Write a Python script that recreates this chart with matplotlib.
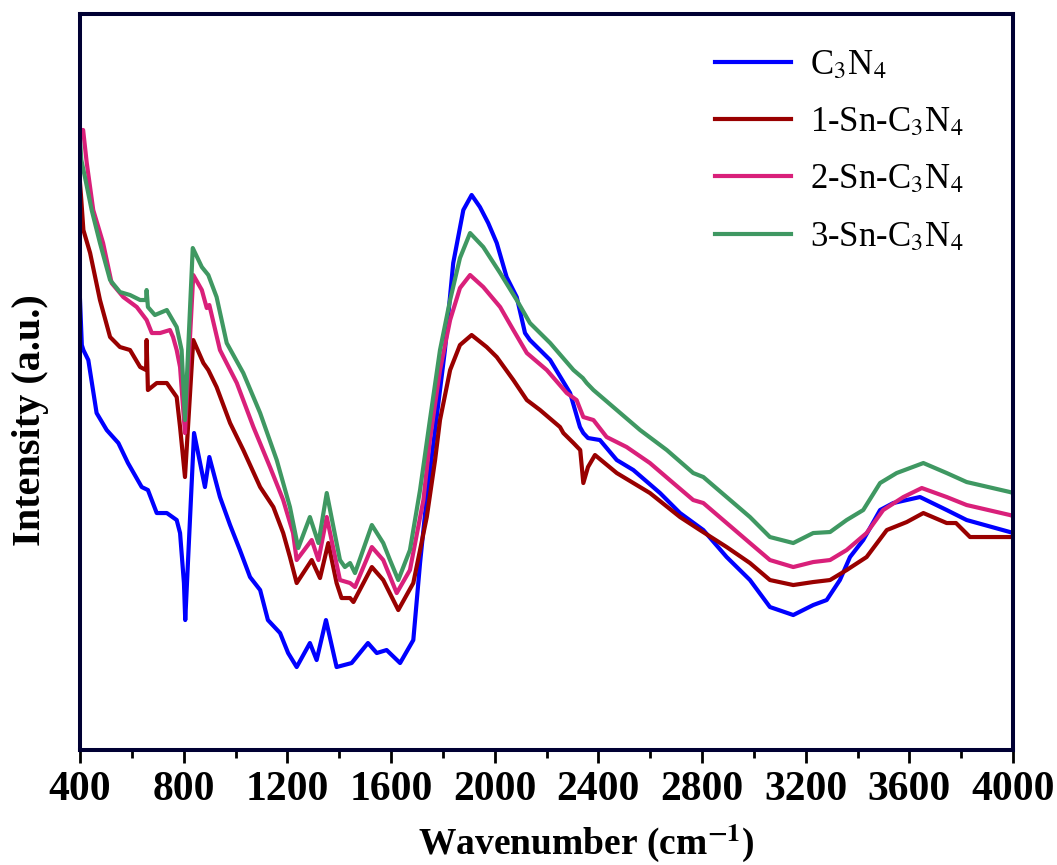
import numpy as np
import matplotlib.pyplot as plt

plt.rcParams['font.family'] = ['Liberation Serif', 'DejaVu Serif']
plt.rcParams['mathtext.fontset'] = 'stix'

# FTIR spectra: wavenumber (cm-1) and intensity (a.u.)
wn_c3n4 = [400, 407, 413, 432, 464, 503, 548, 585, 638, 662, 696, 735, 773, 786, 801, 806,
           840, 882, 899, 940, 979, 1017, 1056, 1095, 1125, 1172, 1203, 1236, 1287, 1313,
           1349, 1390, 1448, 1511, 1545, 1583, 1635, 1686, 1712, 1738, 1770, 1808, 1840,
           1879, 1911, 1943, 1975, 2008, 2046, 2085, 2117, 2136, 2214, 2291, 2329, 2342,
           2360, 2406, 2471, 2535, 2638, 2715, 2805, 2895, 2985, 3062, 3152, 3229, 3281,
           3332, 3371, 3422, 3487, 3538, 3641, 3744, 3821, 3988, 4000]
int_c3n4 = [450, 405, 400, 390, 337, 320, 307, 287, 263, 260, 237, 237, 230, 217, 167, 130,
            317, 263, 293, 253, 225, 200, 173, 160, 130, 117, 97, 83, 107, 90,
            130, 83, 87, 107, 97, 100, 87, 110, 187, 253, 320, 400, 487,
            540, 555, 543, 527, 507, 473, 453, 417, 410, 390, 357, 323, 317,
            312, 310, 290, 280, 257, 237, 220, 193, 170, 143, 135, 145, 150,
            170, 193, 210, 240, 247, 253, 240, 230, 218, 217]

wn_sn1 = [400, 405, 413, 439, 477, 516, 554, 593, 632, 655, 657, 662, 696, 735, 773, 786,
          805, 837, 876, 895, 927, 979, 1030, 1095, 1146, 1184, 1210, 1236, 1294, 1326,
          1358, 1390, 1409, 1442, 1455, 1526, 1570, 1628, 1686, 1738, 1770, 1789, 1828,
          1866, 1911, 1969, 2008, 2072, 2124, 2175, 2252, 2265, 2304, 2330, 2342, 2360,
          2387, 2471, 2599, 2715, 2792, 2895, 2985, 3062, 3152, 3229, 3294, 3358, 3435,
          3513, 3590, 3654, 3744, 3780, 3834, 3988, 4000]
int_sn1 = [567, 550, 520, 497, 450, 413, 403, 400, 383, 380, 410, 360, 367, 367, 353, 323,
           273, 410, 387, 380, 363, 327, 300, 263, 243, 217, 193, 167, 190, 172,
           207, 167, 152, 152, 148, 183, 170, 140, 167, 233, 290, 330, 380,
           405, 415, 403, 393, 370, 350, 340, 323, 317, 307, 300, 267, 283,
           295, 277, 257, 233, 220, 203, 187, 170, 165, 168, 170, 180, 193,
           220, 228, 237, 227, 227, 213, 213, 213]

wn_sn2 = [400, 412, 426, 451, 489, 522, 567, 619, 657, 677, 709, 747, 759, 773, 786, 805,
          837, 870, 889, 899, 940, 1005, 1069, 1133, 1184, 1222, 1236, 1294, 1320, 1352,
          1403, 1442, 1461, 1526, 1570, 1622, 1673, 1725, 1750, 1789, 1828, 1866, 1905,
          1956, 2021, 2072, 2124, 2201, 2278, 2316, 2342, 2381, 2432, 2509, 2599, 2689,
          2766, 2805, 2895, 2985, 3062, 3152, 3229, 3294, 3358, 3435, 3499, 3577, 3648,
          3744, 3821, 3988, 4000]
int_sn2 = [620, 620, 587, 540, 507, 467, 453, 443, 430, 417, 417, 420, 413, 400, 383, 317,
           475, 460, 442, 445, 400, 367, 323, 283, 250, 217, 190, 210, 190, 233,
           170, 167, 163, 203, 190, 157, 180, 250, 310, 380, 430, 462, 475,
           463, 443, 420, 397, 380, 357, 350, 333, 330, 313, 303, 287, 267,
           250, 247, 227, 207, 190, 183, 188, 190, 200, 217, 240, 253, 262,
           253, 245, 235, 234]

wn_sn3 = [400, 405, 419, 445, 477, 516, 554, 593, 632, 655, 657, 662, 689, 735, 773, 792,
          805, 835, 870, 895, 927, 966, 1030, 1095, 1159, 1210, 1242, 1287, 1320, 1352,
          1403, 1422, 1442, 1461, 1526, 1570, 1596, 1628, 1673, 1712, 1750, 1789, 1828,
          1866, 1905, 1956, 2021, 2085, 2136, 2214, 2304, 2340, 2355, 2381, 2471, 2561,
          2664, 2766, 2805, 2895, 2985, 3062, 3152, 3229, 3294, 3358, 3422, 3487, 3551,
          3654, 3744, 3821, 3988, 4000]
int_sn3 = [610, 590, 573, 540, 507, 470, 458, 455, 450, 450, 460, 443, 435, 440, 423, 400,
           330, 502, 483, 475, 453, 407, 377, 337, 290, 243, 202, 233, 207, 257,
           190, 183, 187, 177, 225, 207, 190, 170, 200, 260, 330, 400, 450,
           492, 517, 503, 477, 450, 427, 407, 380, 372, 367, 360, 340, 320,
           300, 277, 273, 253, 233, 213, 207, 217, 218, 230, 240, 267, 277,
           287, 277, 268, 258, 257]

labels = ['C$_3$N$_4$', '1-Sn-C$_3$N$_4$', '2-Sn-C$_3$N$_4$', '3-Sn-C$_3$N$_4$']
colors = ['#0000FF', '#990000', '#D9207A', '#3F9862']

fig = plt.figure(figsize=(10.57, 8.65), dpi=100)
ax = fig.add_axes([0.0757, 0.1329, 0.8827, 0.8509])

series = [(wn_c3n4, int_c3n4), (wn_sn1, int_sn1), (wn_sn2, int_sn2), (wn_sn3, int_sn3)]
for (x, y), lab, c in zip(series, labels, colors):
    ax.plot(x, y, color=c, lw=3, label=lab, solid_joinstyle='round')

ax.set_xlim(400, 4000)
ax.set_ylim(0, 736)
ax.set_xticks(np.arange(400, 4001, 400))
ax.set_xticks(np.arange(600, 4000, 400), minor=True)
ax.set_yticks([])

for s in ax.spines.values():
    s.set_linewidth(2.9)
    s.set_color('#000033')

ax.tick_params(axis='x', which='major', length=9, width=2, direction='out',
               labelsize=30, pad=6)
ax.tick_params(axis='x', which='minor', length=6, width=2, direction='out')
for t in ax.get_xticklabels():
    t.set_fontweight('bold')

ax.set_xlabel(r'Wavenumber (cm$^{\mathbf{-1}}$)', fontsize=27, fontweight='bold')
ax.xaxis.set_label_coords(0.543, -0.098)
ax.set_ylabel('Intensity (a.u.)', fontsize=29, fontweight='bold')
ax.yaxis.set_label_coords(-0.033, 0.448)

ax.legend(loc='upper left', bbox_to_anchor=(0.647, 0.995), frameon=False, fontsize=25,
          handlelength=2.2, labelspacing=0.7, handletextpad=0.55)

fig.savefig('out.png', dpi=100)
